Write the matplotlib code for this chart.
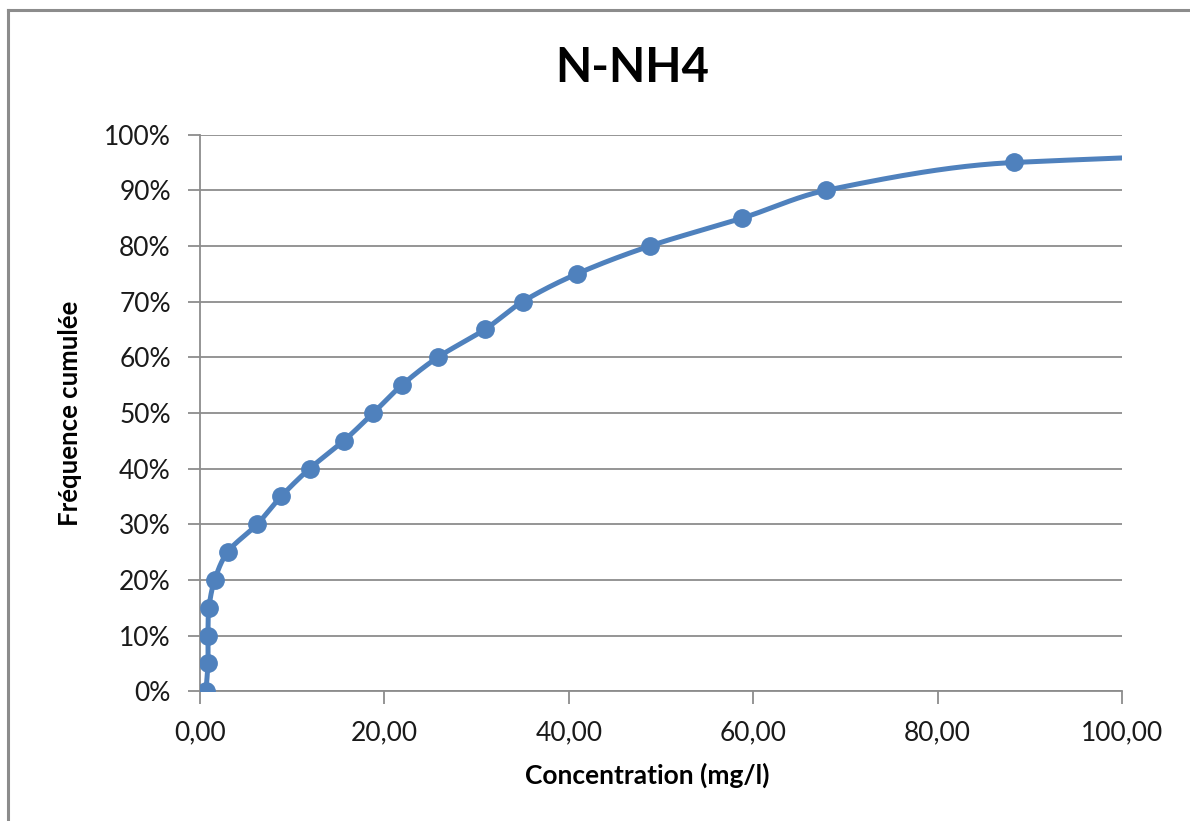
import numpy as np
import matplotlib
matplotlib.use('Agg')
import matplotlib.pyplot as plt
from matplotlib.ticker import FuncFormatter, MultipleLocator
from matplotlib.lines import Line2D

# Data: concentration (mg/l) vs cumulative frequency.
concentration = [0.65, 0.87, 0.87, 0.98, 1.6, 3.0, 6.2, 8.8, 11.9, 15.6,
                 18.8, 21.9, 25.8, 30.9, 35.0, 40.9, 48.8, 58.8, 67.9, 88.3, 200.0]
frequency = [0.00, 0.05, 0.10, 0.15, 0.20, 0.25, 0.30, 0.35, 0.40, 0.45,
             0.50, 0.55, 0.60, 0.65, 0.70, 0.75, 0.80, 0.85, 0.90, 0.95, 1.00]

BLUE = '#4F81BD'
GRID = '#8C8C8C'


def smooth(x, y, sx=9.22, sy=556.0, n=40):
    # Excel-style smoothed line: Bezier segments, tangents scaled by segment length.
    p = np.column_stack([np.asarray(x, float) * sx, np.asarray(y, float) * sy])
    m = len(p)
    cin, cout = np.zeros_like(p), np.zeros_like(p)
    for i in range(m):
        a = p[max(i - 1, 0)]
        b = p[min(i + 1, m - 1)]
        d0 = np.hypot(*(p[i] - a))
        d1 = np.hypot(*(b - p[i]))
        tot = d0 + d1 if d0 + d1 > 0 else 1.0
        t = b - a
        cout[i] = p[i] + t * d1 / tot / 3
        cin[i] = p[i] - t * d0 / tot / 3
    u = np.linspace(0, 1, n)[:, None]
    segs = []
    for i in range(m - 1):
        p0, c1, c2, p3 = p[i], cout[i], cin[i + 1], p[i + 1]
        segs.append((1 - u) ** 3 * p0 + 3 * (1 - u) ** 2 * u * c1
                    + 3 * (1 - u) * u ** 2 * c2 + u ** 3 * p3)
    s = np.vstack(segs)
    return s[:, 0] / sx, s[:, 1] / sy


plt.rcParams['font.family'] = ['Lato', 'DejaVu Sans']

fig = plt.figure(figsize=(11.9, 8.21), dpi=100)
ax = fig.add_axes([0.168, 0.158, 0.775, 0.678])

cx, cy = smooth(concentration, frequency)
ax.plot(cx, cy, color=BLUE, lw=3.6, solid_capstyle='round', zorder=3)
ax.plot(concentration, frequency, 'o', color=BLUE, ms=12.5, zorder=4)

ax.set_xlim(0, 100)
ax.set_ylim(0, 1)
ax.xaxis.set_major_locator(MultipleLocator(20))
ax.yaxis.set_major_locator(MultipleLocator(0.1))
ax.xaxis.set_major_formatter(FuncFormatter(lambda v, p: f'{v:.2f}'.replace('.', ',')))
ax.yaxis.set_major_formatter(FuncFormatter(lambda v, p: f'{v * 100:.0f}%'))

ax.grid(axis='y', color=GRID, lw=1.3)
ax.set_axisbelow(True)
for side in ['top', 'right']:
    ax.spines[side].set_visible(False)
for side in ['left', 'bottom']:
    ax.spines[side].set_color(GRID)
    ax.spines[side].set_linewidth(1.3)
ax.tick_params(axis='both', colors=GRID, length=9, width=1.3, labelsize=19,
               labelcolor='#1a1a1a')
ax.tick_params(axis='x', pad=12)
ax.tick_params(axis='y', pad=12)

fig.text(0.531, 0.917, 'N-NH4', fontsize=34, fontweight='bold', ha='center', va='center')
ax.set_xlabel('Concentration (mg/l)', fontsize=19, fontweight='bold')
ax.set_ylabel('Fréquence cumulée', fontsize=18.5, fontweight='bold')
ax.xaxis.set_label_coords(0.485, -0.128)
ax.yaxis.set_label_coords(-0.128, 0.5)

# Grey outline of the chart area (right and bottom edges fall outside the image).
fig.add_artist(Line2D([0.0067, 1.0], [0.988, 0.988], color='#8C8C8C', lw=2.2,
                      transform=fig.transFigure))
fig.add_artist(Line2D([0.0067, 0.0067], [0.0, 0.988], color='#8C8C8C', lw=2.2,
                      transform=fig.transFigure))

fig.savefig('out.png', dpi=100)
